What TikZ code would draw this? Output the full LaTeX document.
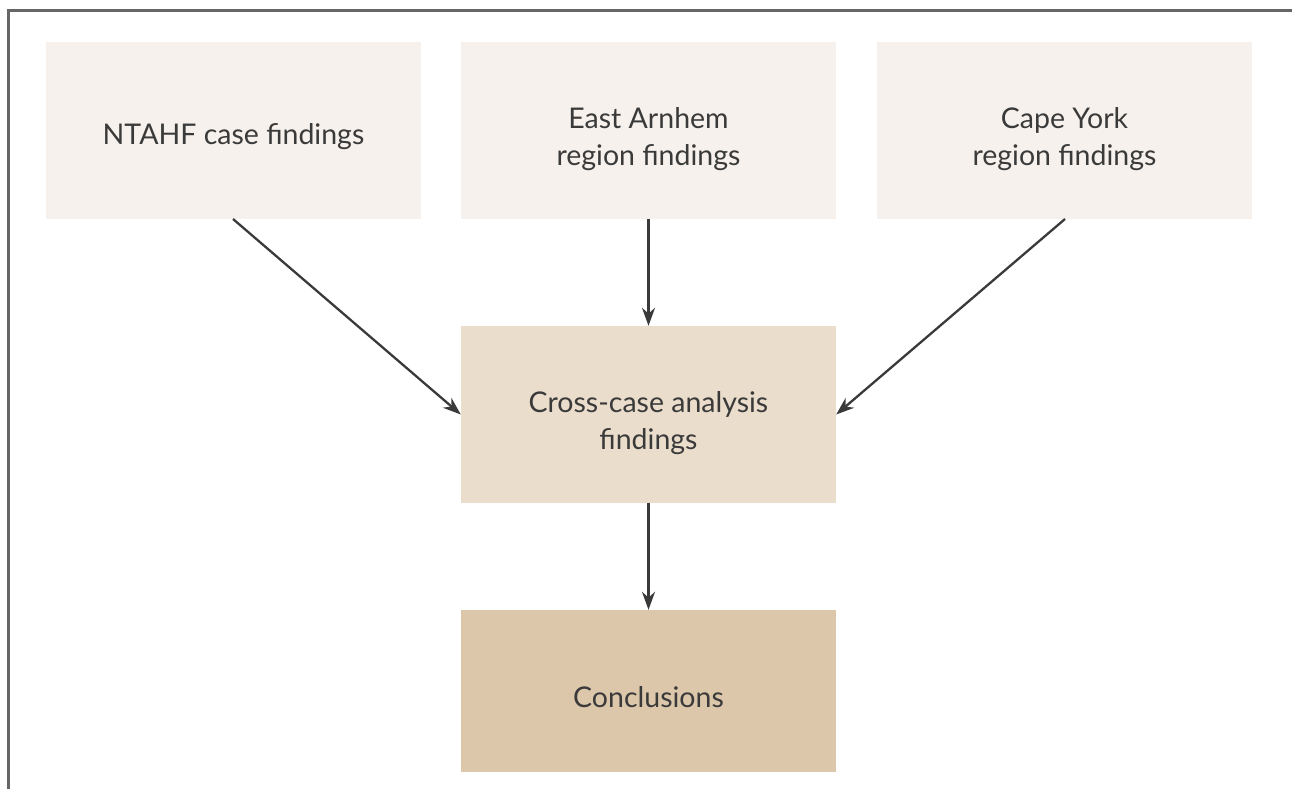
\documentclass[tikz,border=0pt]{standalone}
\usepackage{fontspec}
\setmainfont{Lato}
\usetikzlibrary{arrows.meta}
\definecolor{boxA}{HTML}{F6F1EC}
\definecolor{boxB}{HTML}{EADDCC}
\definecolor{boxC}{HTML}{DCC7AB}
\definecolor{ink}{HTML}{3A3A3A}
\definecolor{frame}{HTML}{666666}
\begin{document}
\begin{tikzpicture}[x=1pt,y=-1pt,
  box/.style={minimum width=375pt,inner sep=0pt,align=center,text=ink,font=\fontsize{28.5}{37}\selectfont},
  lbl/.style={align=center,text=ink,font=\fontsize{28.5}{37}\selectfont},
  conn/.style={draw=ink,line width=2.3pt,-{Stealth[length=18pt,width=13pt]}}]
\useasboundingbox (0,0) rectangle (1292,789);
\draw[frame,line width=2.2pt] (8.5,789) -- (8.5,10.5) -- (1292,10.5);
\node[box,fill=boxA,minimum height=177pt] (n1) at (233.5,130.5) {};
\node[box,fill=boxA,minimum height=177pt] (n2) at (648.5,130.5) {};
\node[box,fill=boxA,minimum height=177pt] (n3) at (1064.5,130.5) {};
\node[box,fill=boxB,minimum height=177pt] (m) at (648.5,414.5) {};
\node[box,fill=boxC,minimum height=162pt] (c) at (648.5,691) {};
\node[lbl] (t1) at (233.5,137) {NTAHF case findings};
\node[lbl] (t2) at (648.5,139) {East Arnhem\\region findings};
\node[lbl] (t3) at (1064.5,139) {Cape York\\region findings};
\node[lbl] (tm) at (648.5,423) {Cross-case analysis\\findings};
\node[lbl] (tc) at (648.5,697) {Conclusions};
\coordinate (a1) at (233,219);
\coordinate (a3) at (1065,219);
\draw[conn] (a1) -- (m.west);
\draw[conn] (n2.south) -- (m.north);
\draw[conn] (a3) -- (m.east);
\draw[conn] (m.south) -- (c.north);
\end{tikzpicture}
\end{document}
